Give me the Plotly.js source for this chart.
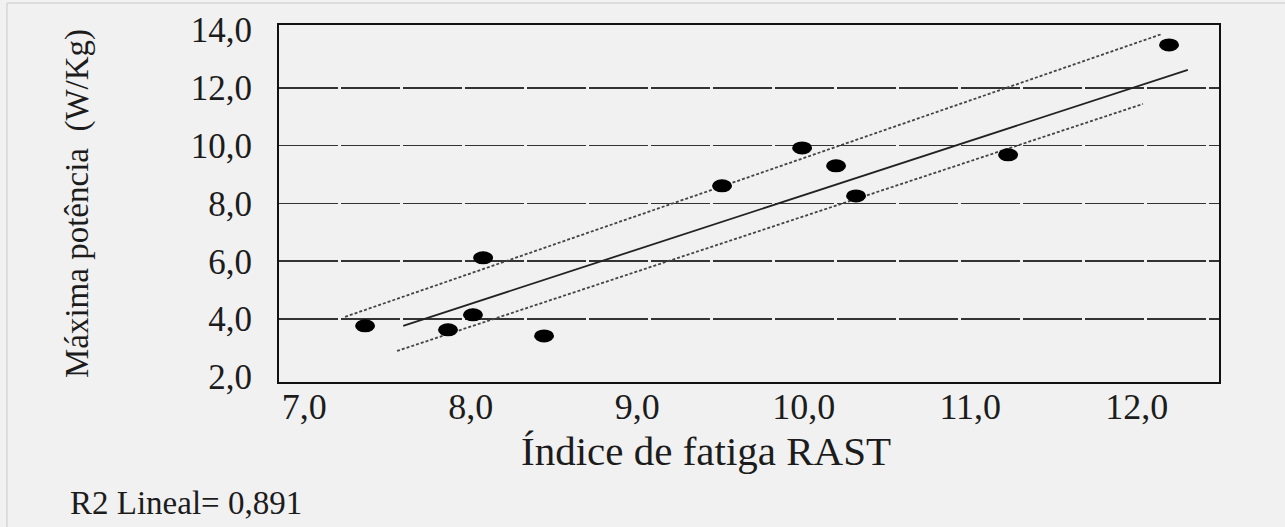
<!DOCTYPE html>
<html>
<head>
<meta charset="utf-8">
<script src="https://cdn.plot.ly/plotly-3.0.1.min.js"></script>
<style>
  html, body { margin: 0; padding: 0; background: #f1f1f1; }
  #chart { width: 1285px; height: 527px; }
</style>
</head>
<body>
<div id="chart"></div>
<script>
// Observed points: Índice de fatiga RAST (x) vs Máxima potência W/Kg (y)
const fatigueIndex = [7.365, 7.863, 8.013, 8.074, 8.440, 9.509, 9.990, 10.194, 10.314, 11.227, 12.194];
const maxPower     = [3.77, 3.63, 4.15, 6.12, 3.42, 8.61, 9.92, 9.30, 8.26, 9.68, 13.48];

// Linear fit line and its confidence band (end points)
const fitX   = [7.594, 12.307];
const fitY   = [3.77, 12.62];
const upperX = [7.245, 12.152];
const upperY = [4.08, 13.86];
const lowerX = [7.557, 12.037];
const lowerY = [2.90, 11.44];

const yTicks = [2, 4, 6, 8, 10, 12, 14];
const yGrid  = [4, 6, 8, 10, 12];
const xTicks = [7, 8, 9, 10, 11, 12];
const xTitle = 'Índice de fatiga RAST';
const yTitle = 'Máxima potência  (W/Kg)';
const r2Text = 'R2 Lineal= 0,891';

const serif = 'Liberation Serif, Times New Roman, serif';
const ink = '#1c1c1c';

const traces = [
  { x: upperX, y: upperY, mode: 'lines', type: 'scatter', name: 'IC superior',
    line: { color: '#444', width: 1.8, dash: '3px,2px' }, hoverinfo: 'skip' },
  { x: lowerX, y: lowerY, mode: 'lines', type: 'scatter', name: 'IC inferior',
    line: { color: '#444', width: 1.8, dash: '3px,2px' }, hoverinfo: 'skip' },
  { x: fitX, y: fitY, mode: 'lines', type: 'scatter', name: 'Lineal',
    line: { color: '#222', width: 1.8 } },
  { x: fatigueIndex, y: maxPower, mode: 'markers', type: 'scatter', name: 'Datos',
    marker: { color: '#000', size: 12, symbol: 'circle' } }
];

// elliptical dots, anchored to each data value
const dotShapes = fatigueIndex.map((xv, i) => ({
  type: 'circle', xref: 'x', yref: 'y',
  xsizemode: 'pixel', ysizemode: 'pixel',
  xanchor: xv, yanchor: maxPower[i],
  x0: -10, x1: 10, y0: -6.5, y1: 6.5,
  fillcolor: '#000', line: { width: 0 }, layer: 'above'
}));

const layout = {
  width: 1285, height: 527,
  margin: { l: 279, r: 66, t: 25, b: 145 },
  paper_bgcolor: '#f1f1f1',
  plot_bgcolor: '#f1f1f1',
  showlegend: false,
  separators: ',.',
  font: { family: serif, color: ink },
  xaxis: {
    range: [6.848, 12.494],
    tickvals: xTicks, tickformat: '.1f',
    showgrid: false, zeroline: false,
    showline: true, mirror: true, linecolor: '#111', linewidth: 2,
    ticks: '', ticklabelstandoff: -8,
    tickfont: { family: serif, size: 36, color: ink }
  },
  yaxis: {
    range: [1.827, 14.17],
    tickvals: yTicks, tickformat: '.1f',
    showgrid: false,
    minor: { tickvals: yGrid, showgrid: true, gridcolor: '#333', gridwidth: 1.6, griddash: '59px,3px', ticks: '' },
    zeroline: false,
    showline: true, mirror: true, linecolor: '#111', linewidth: 2,
    ticks: '', ticklabelstandoff: 18,
    tickfont: { family: serif, size: 35, color: ink },
    title: { text: yTitle, font: { family: serif, size: 33, color: ink }, standoff: 92 }
  },
  shapes: dotShapes.concat([
    { type: 'line', xref: 'paper', yref: 'paper', x0: -0.2894, x1: 1.1, y0: 1.0616, y1: 1.0616,
      line: { color: '#d6d6d6', width: 1.5 } },
    { type: 'line', xref: 'paper', yref: 'paper', x0: -0.2894, x1: -0.2894, y0: -0.45, y1: 1.0616,
      line: { color: '#d6d6d6', width: 1.5 } }
  ]),
  annotations: [
    // x-axis title, placed left of centre as in the source
    { text: xTitle, xref: 'paper', yref: 'paper', x: 0.4543, y: -0.193,
      xanchor: 'center', yanchor: 'middle', showarrow: false,
      font: { family: serif, size: 41, color: ink } },
    { text: r2Text, xref: 'paper', yref: 'paper', x: -0.2245, y: -0.339,
      xanchor: 'left', yanchor: 'middle', showarrow: false,
      font: { family: serif, size: 33, color: ink } }
  ]
};

Plotly.newPlot('chart', traces, layout, { displayModeBar: false, staticPlot: true });
</script>
</body>
</html>
